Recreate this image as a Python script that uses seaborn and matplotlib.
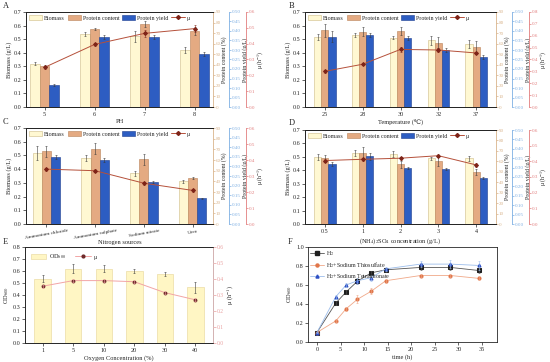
"""
Six-panel figure: culture conditions vs biomass / protein / growth rate,
plus growth curves under different electron acceptors.
"""

import numpy as np
import pandas as pd
import matplotlib
matplotlib.use('Agg')
import matplotlib.pyplot as plt
from matplotlib.patches import Patch
from matplotlib.lines import Line2D
import seaborn as sns


# ── data ───────────────────────────────────────────────────────────────────────

# A – pH
ph_cats         = ['5', '6', '7', '8']
ph_biomass      = [0.32, 0.54, 0.52, 0.42]
ph_biomass_err  = [0.01, 0.015, 0.04, 0.02]
ph_protein      = [38.5, 73.5, 78.5, 72.0]
ph_protein_err  = [1.5, 1.0, 3.0, 4.0]
ph_yield        = [0.115, 0.37, 0.37, 0.28]
ph_yield_err    = [0.005, 0.01, 0.01, 0.01]
ph_mu           = [0.25, 0.395, 0.465, 0.495]
ph_mu_err       = [0.01, 0.01, 0.02, 0.02]

# B – temperature
temp_cats        = ['25', '28', '30', '32', '37']
temp_biomass     = [0.515, 0.53, 0.51, 0.49, 0.465]
temp_biomass_err = [0.02, 0.015, 0.01, 0.03, 0.03]
temp_protein     = [72.5, 71.5, 72.0, 61.0, 56.5]
temp_protein_err = [6.0, 4.0, 4.0, 5.0, 6.0]
temp_yield       = [0.37, 0.38, 0.365, 0.30, 0.265]
temp_yield_err   = [0.03, 0.01, 0.01, 0.01, 0.01]
temp_mu          = [0.30, 0.36, 0.485, 0.48, 0.455]
temp_mu_err      = [0.01, 0.01, 0.02, 0.02, 0.01]

# C – nitrogen source
n_cats         = ['Ammonium chloride', 'Ammonium sulphate', 'Sodium nitrate', 'Urea']
n_biomass      = [0.52, 0.48, 0.37, 0.31]
n_biomass_err  = [0.05, 0.02, 0.02, 0.01]
n_protein      = [68.0, 70.5, 60.5, 43.5]
n_protein_err  = [5.0, 5.0, 5.0, 1.0]
n_yield        = [0.35, 0.335, 0.22, 0.135]
n_yield_err    = [0.01, 0.01, 0.005, 0.003]
n_mu           = [0.343, 0.333, 0.255, 0.21]
n_mu_err       = [0.01, 0.01, 0.01, 0.01]

# D – (NH4)2SO4 concentration
s_cats         = ['0.5', '1', '2', '3', '4']
s_biomass      = [0.50, 0.53, 0.52, 0.49, 0.49]
s_biomass_err  = [0.02, 0.02, 0.02, 0.01, 0.02]
s_protein      = [63.0, 68.0, 57.0, 60.0, 50.0]
s_protein_err  = [3.0, 6.0, 3.0, 4.0, 3.0]
s_yield        = [0.318, 0.36, 0.296, 0.293, 0.246]
s_yield_err    = [0.01, 0.02, 0.005, 0.005, 0.005]
s_mu           = [0.405, 0.413, 0.42, 0.436, 0.377]
s_mu_err       = [0.01, 0.01, 0.01, 0.01, 0.01]

# E – oxygen concentration
o2_cats        = ['1', '5', '10', '20', '30', '40']
o2_od          = [0.535, 0.62, 0.62, 0.60, 0.575, 0.465]
o2_od_err      = [0.03, 0.04, 0.03, 0.02, 0.02, 0.045]
o2_mu          = [0.355, 0.39, 0.39, 0.383, 0.315, 0.27]
o2_mu_err      = [0.01, 0.01, 0.01, 0.01, 0.01, 0.01]

# F – growth curves
time_h         = [0, 4, 6.2, 8.6, 11.5, 14.6, 22, 28.3, 34.3]
od_h2          = [0.10, 0.41, 0.527, 0.64, 0.728, 0.76, 0.785, 0.785, 0.753]
od_thio        = [0.10, 0.222, 0.35, 0.45, 0.534, 0.645, 0.70, 0.70, 0.67]
od_tetra       = [0.10, 0.477, 0.60, 0.645, 0.677, 0.77, 0.82, 0.82, 0.806]
od_h2_err      = [0.01, 0.02, 0.02, 0.03, 0.02, 0.02, 0.03, 0.03, 0.03]
od_thio_err    = [0.01, 0.01, 0.02, 0.04, 0.03, 0.02, 0.02, 0.02, 0.02]
od_tetra_err   = [0.01, 0.02, 0.02, 0.03, 0.03, 0.02, 0.03, 0.04, 0.05]
curve_names    = ['H$_2$', 'H$_2$+Sodium Thiosulfate', 'H$_2$+Sodium Tetrathionate']


# ── style ──────────────────────────────────────────────────────────────────────

W, H = 550, 362

BIOMASS_C   = '#FFF8D2'
BIOMASS_E   = '#CDBB86'
PROTEIN_C   = '#E4AA82'
PROTEIN_E   = '#B98358'
YIELD_C     = '#2D5DC2'
YIELD_E     = '#1B3C8E'
MU_C        = '#B5503A'
MU_M        = '#7E2418'
PROT_AX_C   = '#D9B48C'
YIELD_AX_C  = '#7DAFE3'
MU_AX_C     = '#E27D7D'
ERR_C       = '#3A3A3A'
RIGHT_TICK  = 3.6

sns.set_theme(style='ticks')
plt.rcParams['font.family'] = ['Liberation Serif', 'DejaVu Serif', 'DejaVu Sans']
plt.rcParams['mathtext.fontset'] = 'stix'
plt.rcParams['font.size'] = 4.4
plt.rcParams['axes.linewidth'] = 0.6
plt.rcParams['xtick.major.size'] = 2
plt.rcParams['ytick.major.size'] = 2
plt.rcParams['xtick.major.width'] = 0.5
plt.rcParams['ytick.major.width'] = 0.5
plt.rcParams['xtick.major.pad'] = 1.5
plt.rcParams['ytick.major.pad'] = 1.0
plt.rcParams['axes.labelpad'] = 1.5
plt.rcParams['xtick.labelsize'] = 4.4
plt.rcParams['ytick.labelsize'] = 4.4
plt.rcParams['axes.labelsize'] = 4.6


def rect(left, right, top, bottom):
    return [left / W, 1 - bottom / H, (right - left) / W, (bottom - top) / H]


def err_kw():
    return dict(ecolor=ERR_C, elinewidth=0.4, capsize=1.0, capthick=0.4)


def colour_axis(axis, colour):
    axis.spines['right'].set_color(colour)
    axis.tick_params(axis='y', colors=colour, labelsize=RIGHT_TICK,
                     labelcolor=colour, length=1.5, pad=0.5)
    axis.yaxis.label.set_color('#222222')
    axis.yaxis.label.set_fontsize(4.2)


# ── bar panels A–D ─────────────────────────────────────────────────────────────

def bar_panel(fig, box, cats, biomass, biomass_err, protein, protein_err,
              pyield, pyield_err, mu, mu_err, mu_max, xlabel, xlim, rot=0):
    ax  = fig.add_axes(box)
    ax2 = ax.twinx()
    ax3 = ax.twinx()
    ax4 = ax.twinx()
    ax3.spines['right'].set_position(('outward', 11.8))
    ax4.spines['right'].set_position(('outward', 23.5))
    ax.spines['right'].set_visible(False)

    x = np.arange(len(cats))
    w = 0.19
    ax.bar(x - w, biomass, w, yerr=biomass_err, color=BIOMASS_C,
           edgecolor=BIOMASS_E, linewidth=0.4, error_kw=err_kw())
    ax2.bar(x, protein, w, yerr=protein_err, color=PROTEIN_C,
            edgecolor=PROTEIN_E, linewidth=0.4, error_kw=err_kw())
    ax3.bar(x + w, pyield, w, yerr=pyield_err, color=YIELD_C,
            edgecolor=YIELD_E, linewidth=0.4, error_kw=err_kw())

    sns.lineplot(x=x, y=mu, ax=ax4, color=MU_C, linewidth=0.7,
                 marker='D', markersize=2.0, markerfacecolor=MU_M,
                 markeredgecolor=MU_M)
    ax4.errorbar(x, mu, yerr=mu_err, fmt='none', ecolor=MU_M,
                 elinewidth=0.4, capsize=1.0, capthick=0.4)

    ax.set_xlim(*xlim)
    ax.set_xticks(x)
    ax.set_xlabel(xlabel)
    if rot:
        ax.set_xticklabels(cats, rotation=rot, ha='center', fontsize=3.8)
        # keep the axis title tight under the slanted labels
        ax.xaxis.set_label_coords(0.5, -0.165)
    else:
        ax.set_xticklabels(cats)
    ax.set_ylim(0, 0.7)
    ax.set_yticks(np.arange(0, 0.71, 0.1))
    ax.yaxis.set_major_formatter('{x:.1f}')
    ax.set_ylabel('Biomass (g/L)')

    ax2.set_ylim(0, 90)
    ax2.set_yticks(np.arange(0, 91, 10))
    ax2.set_ylabel('Protein content (%)', labelpad=0.4)
    colour_axis(ax2, PROT_AX_C)

    ax3.set_ylim(0, 0.5)
    ax3.set_yticks(np.arange(0, 0.501, 0.05))
    ax3.yaxis.set_major_formatter('{x:.2f}')
    ax3.set_ylabel('Protein yield (g/L)', labelpad=0.4)
    colour_axis(ax3, YIELD_AX_C)

    ax4.set_ylim(0, mu_max)
    ax4.set_yticks(np.arange(0, mu_max + 0.001, 0.1))
    ax4.yaxis.set_major_formatter('{x:.1f}')
    ax4.set_ylabel('μ (h$^{-1}$)', labelpad=0.3)
    colour_axis(ax4, MU_AX_C)

    handles = [
        Patch(facecolor=BIOMASS_C, edgecolor=BIOMASS_E, linewidth=0.4),
        Patch(facecolor=PROTEIN_C, edgecolor=PROTEIN_E, linewidth=0.4),
        Patch(facecolor=YIELD_C, edgecolor=YIELD_E, linewidth=0.4),
        Line2D([], [], color=MU_C, linewidth=0.7, marker='D', markersize=2.0,
               markerfacecolor=MU_M, markeredgecolor=MU_M),
    ]
    ax4.legend(handles, ['Biomass', 'Protein content', 'Protein yield', 'μ'],
               loc='upper left', ncol=4, frameon=False, fontsize=4.3,
               handlelength=2.2, handleheight=1.0, columnspacing=0.5,
               handletextpad=0.3, borderaxespad=0.3, borderpad=0.2)
    return ax


fig = plt.figure(figsize=(W / 100, H / 100), dpi=100)

bar_panel(fig, rect(26, 213, 12, 107), ph_cats, ph_biomass, ph_biomass_err,
          ph_protein, ph_protein_err, ph_yield, ph_yield_err, ph_mu, ph_mu_err,
          0.6, 'PH', (-0.37, 3.37))

bar_panel(fig, rect(305, 496, 12, 107), temp_cats, temp_biomass, temp_biomass_err,
          temp_protein, temp_protein_err, temp_yield, temp_yield_err,
          temp_mu, temp_mu_err, 0.8, 'Temperature (℃)', (-0.52, 4.52))

bar_panel(fig, rect(26, 213, 128, 224), n_cats, n_biomass, n_biomass_err,
          n_protein, n_protein_err, n_yield, n_yield_err, n_mu, n_mu_err,
          0.6, 'Nitrogen sources', (-0.42, 3.42), rot=10)

bar_panel(fig, rect(305, 496, 130, 224), s_cats, s_biomass, s_biomass_err,
          s_protein, s_protein_err, s_yield, s_yield_err, s_mu, s_mu_err,
          0.6, '(NH$_4$)$_2$SO$_4$ concentration (g/L)', (-0.52, 4.52))


# ── E – oxygen ─────────────────────────────────────────────────────────────────

E_BAR_C  = '#FFF6C4'
E_BAR_E  = '#E6D596'
E_LINE_C = '#F2A5A5'
E_MARK_C = '#6E2A2A'

axe = fig.add_axes(rect(25, 213, 247, 343))
sns.barplot(x=o2_cats, y=o2_od, ax=axe, color=E_BAR_C, saturation=1,
            width=0.54, edgecolor=E_BAR_E, linewidth=0.4)
axe.errorbar(np.arange(len(o2_cats)), o2_od, yerr=o2_od_err, fmt='none',
             **err_kw())
axe.set_xlim(-0.58, 5.58)
axe.set_ylim(0, 0.8)
axe.set_yticks(np.arange(0, 0.81, 0.1))
axe.yaxis.set_major_formatter('{x:.1f}')
axe.set_xlabel('Oxygen Concentration (%)')
axe.set_ylabel('OD$_{600}$')

axe2 = axe.twinx()
sns.lineplot(x=np.arange(len(o2_cats)), y=o2_mu, ax=axe2, color=E_LINE_C,
             linewidth=0.7, marker='o', markersize=2.0,
             markerfacecolor=E_MARK_C, markeredgecolor=E_MARK_C)
axe2.errorbar(np.arange(len(o2_cats)), o2_mu, yerr=o2_mu_err, fmt='none',
              ecolor=E_LINE_C, elinewidth=0.4, capsize=1.0, capthick=0.4)
axe2.set_ylim(0, 0.6)
axe2.set_yticks(np.arange(0, 0.61, 0.1))
axe2.yaxis.set_major_formatter('{x:.1f}')
axe2.set_ylabel('μ (h$^{-1}$)', labelpad=1.0)
axe2.spines['right'].set_color('#F0C8C8')
axe2.tick_params(axis='y', colors='#E9A0A0', labelsize=4.0)

axe2.legend([Patch(facecolor=E_BAR_C, edgecolor=E_BAR_E, linewidth=0.4),
             Line2D([], [], color=E_LINE_C, linewidth=0.7, marker='o',
                    markersize=2.0, markerfacecolor=E_MARK_C,
                    markeredgecolor=E_MARK_C)],
            ['OD$_{600}$', 'μ'], loc='upper left', ncol=2, frameon=False,
            fontsize=4.4, handlelength=2.6, handleheight=1.0,
            columnspacing=1.5, handletextpad=0.4, borderaxespad=0.5)


# ── F – growth curves ──────────────────────────────────────────────────────────

curve_colours = ['#1E1E1E', '#E0764A', '#2D4FC4']
curve_lines   = ['#555555', '#F0A888', '#9CBDEB']
curve_markers = ['s', 'o', '^']

axf = fig.add_axes(rect(308, 497, 247, 342))
for name, vals, errs, c, lc, m in zip(curve_names, [od_h2, od_thio, od_tetra],
                                      [od_h2_err, od_thio_err, od_tetra_err],
                                      curve_colours, curve_lines, curve_markers):
    df = pd.DataFrame({'time': time_h, 'od': vals})
    sns.lineplot(data=df, x='time', y='od', ax=axf, color=lc, linewidth=0.6,
                 marker=m, markersize=2.2, markerfacecolor=c,
                 markeredgecolor=c, label=name)
    axf.errorbar(time_h, vals, yerr=errs, fmt='none', ecolor=lc,
                 elinewidth=0.4, capsize=1.0, capthick=0.4)

axf.set_xlim(-1.9, 38.2)
axf.set_xticks(np.arange(0, 36, 5))
axf.set_ylim(0, 1.0)
axf.set_yticks(np.arange(0, 1.01, 0.2))
axf.yaxis.set_major_formatter('{x:.1f}')
axf.set_xlabel('time (h)')
axf.set_ylabel('OD$_{600}$')
leg_handles = [Line2D([], [], color=lc, linewidth=0.6, marker=m, markersize=2.2,
                      markerfacecolor=c, markeredgecolor=c)
               for c, lc, m in zip(curve_colours, curve_lines, curve_markers)]
axf.legend(leg_handles, curve_names, loc='upper left', frameon=False,
           fontsize=4.3, handlelength=2.2, handletextpad=0.4,
           labelspacing=0.3, borderaxespad=0.2, borderpad=0.2)


# ── panel letters ──────────────────────────────────────────────────────────────

for letter, (px, py) in {'A': (3, 6), 'B': (289, 6), 'C': (3, 122),
                         'D': (289, 123), 'E': (3, 242), 'F': (288, 242)}.items():
    fig.text(px / W, 1 - py / H, letter, fontsize=6, ha='left', va='center')

fig.savefig('out.png', dpi=100)
